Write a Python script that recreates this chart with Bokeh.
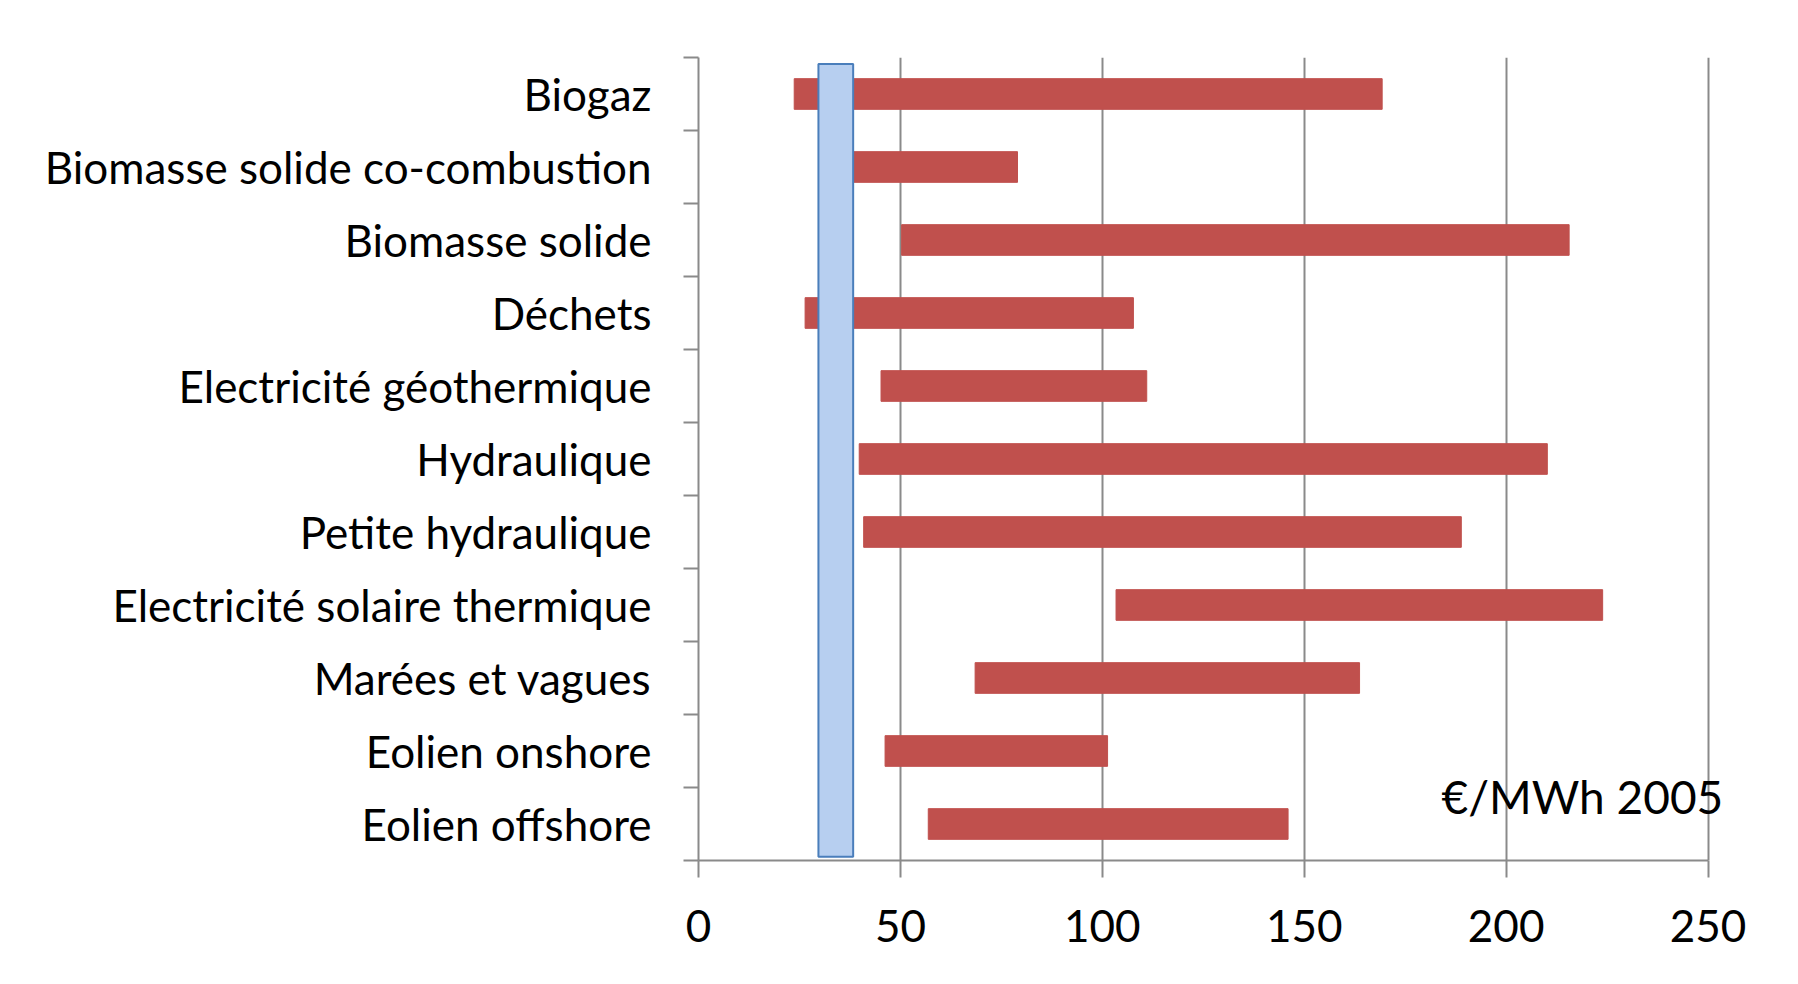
from bokeh.plotting import figure
from bokeh.models import Range1d, FixedTicker, Label, ColumnDataSource
from bokeh.embed import file_html
from bokeh.resources import INLINE

# ---- data ----
categories = [
    "Biogaz",
    "Biomasse solide co-combustion",
    "Biomasse solide",
    "Déchets",
    "Electricité géothermique",
    "Hydraulique",
    "Petite hydraulique",
    "Electricité solaire thermique",
    "Marées et vagues",
    "Eolien onshore",
    "Eolien offshore",
]
cost_low = [23.7, 37.0, 50.3, 26.4, 45.2, 39.8, 40.9, 103.4, 68.5, 46.2, 56.9]
cost_high = [169.3, 79.0, 215.6, 107.7, 111.0, 210.2, 188.9, 223.9, 163.7, 101.3, 146.0]
ref_low = 29.7
ref_high = 38.3
x_ticks = [0, 50, 100, 150, 200, 250]
unit_label = "€/MWh 2005"

FONT = "Lato"
GRID = "#8a8a8a"

n = len(categories)
ypos = [n - 1 - i for i in range(n)]
src = ColumnDataSource(dict(y=ypos, left=cost_low, right=cost_high, name=categories))

p = figure(
    width=1782, height=968,
    output_backend="svg", toolbar_location=None,
    x_range=Range1d(0, 262), y_range=Range1d(-0.5, n - 0.5),
    min_border_left=698, min_border_right=26,
    min_border_top=57, min_border_bottom=108,
)
p.outline_line_color = None
p.background_fill_color = "white"
p.border_fill_color = "white"

# bars
p.hbar(y="y", left="left", right="right", height=0.42, source=src,
       fill_color="#c0504d", line_color="#c0504d", line_width=1)

# reference band (blue)
p.quad(left=[ref_low], right=[ref_high], bottom=[-0.447], top=[n - 0.59],
       fill_color="#b7cff0", line_color="#4a7ebb", line_width=2)

# x axis
xa = p.xaxis[0]
xa.ticker = FixedTicker(ticks=x_ticks)
xa.bounds = (0, 250)
xa.axis_line_color = GRID
xa.axis_line_width = 2
xa.major_tick_line_color = GRID
xa.major_tick_line_width = 2
xa.major_tick_out = 17
xa.major_tick_in = 0
xa.minor_tick_line_color = None
xa.major_label_text_font = FONT
xa.major_label_text_font_size = "44px"
xa.major_label_text_color = "black"
xa.major_label_standoff = 32

# y axis
ya = p.yaxis[0]
ya.ticker = FixedTicker(ticks=ypos, minor_ticks=[k - 0.5 for k in range(n + 1)])
ya.major_label_overrides = {yv: c for yv, c in zip(ypos, categories)}
ya.axis_line_color = GRID
ya.axis_line_width = 2
ya.major_tick_line_color = None
ya.major_tick_out = 0
ya.major_tick_in = 0
ya.minor_tick_line_color = GRID
ya.minor_tick_line_width = 2
ya.minor_tick_out = 15
ya.minor_tick_in = 0
ya.major_label_text_font = FONT
ya.major_label_text_font_size = "44px"
ya.major_label_text_color = "black"
ya.major_label_standoff = 32

# grid
p.xgrid.ticker = FixedTicker(ticks=x_ticks)
p.xgrid.grid_line_color = GRID
p.xgrid.grid_line_width = 2
p.ygrid.grid_line_color = None

p.add_layout(Label(x=184, y=0.38, text=unit_label, text_font=FONT,
                   text_font_size="46px", text_baseline="middle",
                   text_align="left", text_color="black"))

open("out.html", "w").write(file_html(p, INLINE))
